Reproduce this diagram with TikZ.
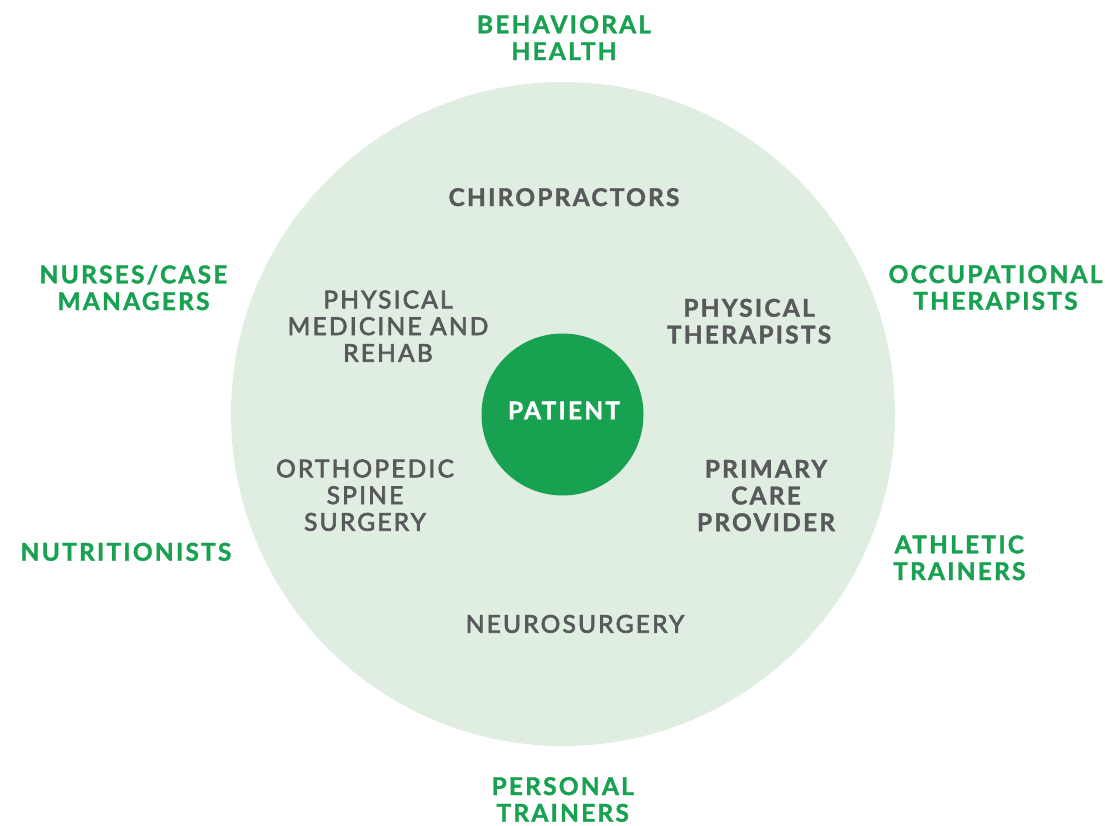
\documentclass[tikz,border=0pt]{standalone}
\usepackage{fontspec}
\setmainfont{Lato}
\newfontfamily\labelbold{Lato}[UprightFont=* Bold,LetterSpace=9,FakeBold=1.4]
\newfontfamily\labelmedium{Lato}[LetterSpace=9,FakeBold=2.8]
\definecolor{teamgreen}{HTML}{17A150}
\definecolor{ringfill}{HTML}{E0EDE1}
\definecolor{labelgray}{HTML}{58595B}
\begin{document}
\begin{tikzpicture}[x=1pt,y=-1pt,
  lbl/.style={align=center,anchor=base,inner sep=0pt,
    font=\labelbold\fontsize{24.5}{26.7}\selectfont},
  outer/.style={lbl,text=teamgreen},
  inner/.style={lbl,text=labelgray},
  innermed/.style={inner,font=\labelmedium\fontsize{24.5}{26.7}\selectfont}]
\useasboundingbox (0,0) rectangle (1105,825);
% care team ring and patient core (labels anchored on their last baseline)
\fill[ringfill] (563,414) circle[radius=332];
\node[circle,fill=teamgreen,minimum size=162pt,inner sep=0pt] (core) at (562.5,414.5) {};
\node[lbl,text=white] (patient) at (564,419.3) {PATIENT};
% specialists inside the ring
\node[inner] (chiro) at (564,206) {CHIROPRACTORS};
\node[innermed] (pmr) at (388,361.7) {PHYSICAL\\MEDICINE AND\\REHAB};
\node[inner] (pt) at (749,343.4) {PHYSICAL\\THERAPISTS};
\node[innermed] (ortho) at (365,530.7) {ORTHOPEDIC\\SPINE\\SURGERY};
\node[inner] (pcp) at (766,531.1) {PRIMARY\\CARE\\PROVIDER};
\node[innermed] (neuro) at (575,632.7) {NEUROSURGERY};
% extended team outside the ring
\node[outer] (behav) at (564,60) {BEHAVIORAL\\HEALTH};
\node[outer] (nurses) at (133.5,310) {NURSES/CASE\\MANAGERS};
\node[outer] (ot) at (995.5,309.7) {OCCUPATIONAL\\THERAPISTS};
\node[outer] (nutri) at (126,560.7) {NUTRITIONISTS};
\node[outer] (athl) at (959.3,580) {ATHLETIC\\TRAINERS};
\node[outer] (personal) at (562.7,821.7) {PERSONAL\\TRAINERS};
\end{tikzpicture}
\end{document}
